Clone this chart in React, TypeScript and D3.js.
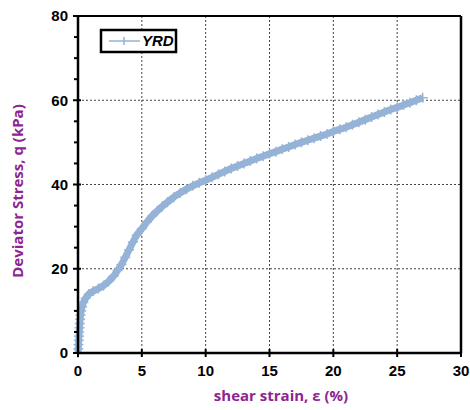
import React from "react";
import * as d3 from "d3";

const strain: number[] = [
  0, 0.02, 0.04, 0.06, 0.08, 0.1, 0.12, 0.14, 0.17, 0.2, 0.25, 0.32, 0.42, 0.6, 0.85,
  1.2, 1.6, 2.0, 2.4, 2.8, 3.1, 3.4, 3.7, 4.0, 4.3, 4.6, 5.0, 5.4, 5.8, 6.2, 6.6,
  7.0, 7.5, 8.0, 8.5, 9.0, 9.5, 10.0, 10.5, 11.0, 11.5, 12.0, 12.5, 13.0, 13.5,
  14.0, 14.5, 15.0, 15.5, 16.0, 16.5, 17.0, 17.5, 18.0, 18.5, 19.0, 19.5, 20.0,
  20.5, 21.0, 21.5, 22.0, 22.5, 23.0, 23.5, 24.0, 24.5, 25.0, 25.5, 26.0, 26.5, 27.0,
];
const stress: number[] = [
  0, 1, 2, 3, 4, 5, 6, 7, 8, 9, 10, 11, 12, 13, 14,
  14.7, 15.3, 16.0, 17.0, 18.3, 19.6, 21.0, 22.7, 24.5, 26.3, 28.0, 29.5, 31.1, 32.5, 33.7, 34.8,
  35.8, 37.0, 38.0, 38.9, 39.7, 40.4, 41.0, 41.7, 42.4, 43.1, 43.8, 44.4, 45.0, 45.6,
  46.2, 46.7, 47.3, 47.8, 48.4, 48.9, 49.5, 50.0, 50.5, 51.0, 51.5, 52.0, 52.6,
  53.1, 53.6, 54.2, 54.8, 55.4, 56.0, 56.6, 57.2, 57.8, 58.3, 58.9, 59.4, 60.0, 60.6,
];
const xTicks: number[] = [0, 5, 10, 15, 20, 25, 30];
const yTicks: number[] = [0, 20, 40, 60, 80];
const yMinorTicks: number[] = [5, 10, 15, 25, 30, 35, 45, 50, 55, 65, 70, 75];
const seriesName = "YRD";
const xTitle = "shear strain, ε (%)";
const yTitle = "Deviator Stress, q (kPa)";

export default function App() {
  const W = 470, H = 410;
  const left = 78, right = 461, top = 16, bottom = 353;
  const x = d3.scaleLinear().domain([0, 30]).range([left, right]);
  const y = d3.scaleLinear().domain([0, 80]).range([bottom, top]);
  const data = strain.map((s, i) => [s, stress[i]] as [number, number]);
  const line = d3.line<[number, number]>().x(d => x(d[0])).y(d => y(d[1]))(data) || "";
  const blue = "#95B3D7";
  const purple = "#8E2490";
  const font = "'Liberation Sans', Arial, sans-serif";
  const titleFont = "'Open Sans', 'Noto Sans', sans-serif";
  const ms = 5;
  return (
    <svg width={W} height={H} style={{ position: "absolute", left: 0, top: 0 }} fontFamily={font}>
      <rect x={0} y={0} width={W} height={H} fill="#fff" />
      {/* grid */}
      {xTicks.filter(t => t > 0 && t < 30).map(t => (
        <line key={"gx" + t} x1={x(t)} x2={x(t)} y1={top} y2={bottom} stroke="#444" strokeWidth={1} strokeDasharray="2,2" />
      ))}
      {yTicks.filter(t => t > 0 && t < 80).map(t => (
        <line key={"gy" + t} x1={left} x2={right} y1={y(t)} y2={y(t)} stroke="#444" strokeWidth={1} strokeDasharray="2,2" />
      ))}
      {/* series */}
      <path d={line} fill="none" stroke={blue} strokeWidth={7} strokeLinejoin="round" />
      {data.map((d, i) => (
        <g key={"m" + i} stroke={blue} strokeWidth={1.5}>
          <line x1={x(d[0]) - ms} x2={x(d[0]) + ms} y1={y(d[1])} y2={y(d[1])} />
          <line x1={x(d[0])} x2={x(d[0])} y1={y(d[1]) - ms} y2={y(d[1]) + ms} />
        </g>
      ))}
      {/* frame */}
      <line x1={left} x2={right} y1={top} y2={top} stroke="#000" strokeWidth={2} />
      <line x1={right} x2={right} y1={top} y2={bottom} stroke="#000" strokeWidth={2.5} />
      <line x1={left} x2={right + 1} y1={bottom} y2={bottom} stroke="#000" strokeWidth={2.5} />
      <line x1={left} x2={left} y1={top - 1} y2={bottom + 1} stroke="#000" strokeWidth={2.5} />
      {/* y ticks */}
      {yTicks.map(t => (
        <g key={"yt" + t}>
          <line x1={left - 5} x2={left + 3} y1={y(t)} y2={y(t)} stroke="#000" strokeWidth={2} />
          <text x={left - 10} y={y(t)} dy="0.35em" textAnchor="end" fontSize={15} fontWeight="bold">{t}</text>
        </g>
      ))}
      {yMinorTicks.map(t => (
        <line key={"ym" + t} x1={left - 4} x2={left} y1={y(t)} y2={y(t)} stroke="#000" strokeWidth={2} />
      ))}
      {/* x ticks */}
      {xTicks.map(t => (
        <g key={"xt" + t}>
          <line x1={x(t)} x2={x(t)} y1={bottom - 4} y2={bottom + 4} stroke="#000" strokeWidth={2} />
          <text x={x(t)} y={bottom + 18} dy="0.35em" textAnchor="middle" fontSize={15} fontWeight="bold">{t}</text>
        </g>
      ))}
      {/* titles */}
      <text x={281} y={396} dy="0.35em" textAnchor="middle" fontSize={15} fontWeight="bold" fill={purple} fontFamily={titleFont}>{xTitle}</text>
      <text transform={`translate(18,191) rotate(-90)`} textAnchor="middle" dy="0.35em" fontSize={15} fontWeight="bold" fill={purple} fontFamily={titleFont}>{yTitle}</text>
      {/* legend */}
      <rect x={101} y={30} width={75} height={22} fill="#fff" stroke="#000" strokeWidth={2.5} />
      <line x1={109} x2={140} y1={41} y2={41} stroke={blue} strokeWidth={1.5} />
      <line x1={124} x2={124} y1={37} y2={45} stroke={blue} strokeWidth={1.5} />
      <text x={142} y={41} dy="0.35em" fontSize={15} fontWeight="bold" fontStyle="italic">{seriesName}</text>
    </svg>
  );
}
